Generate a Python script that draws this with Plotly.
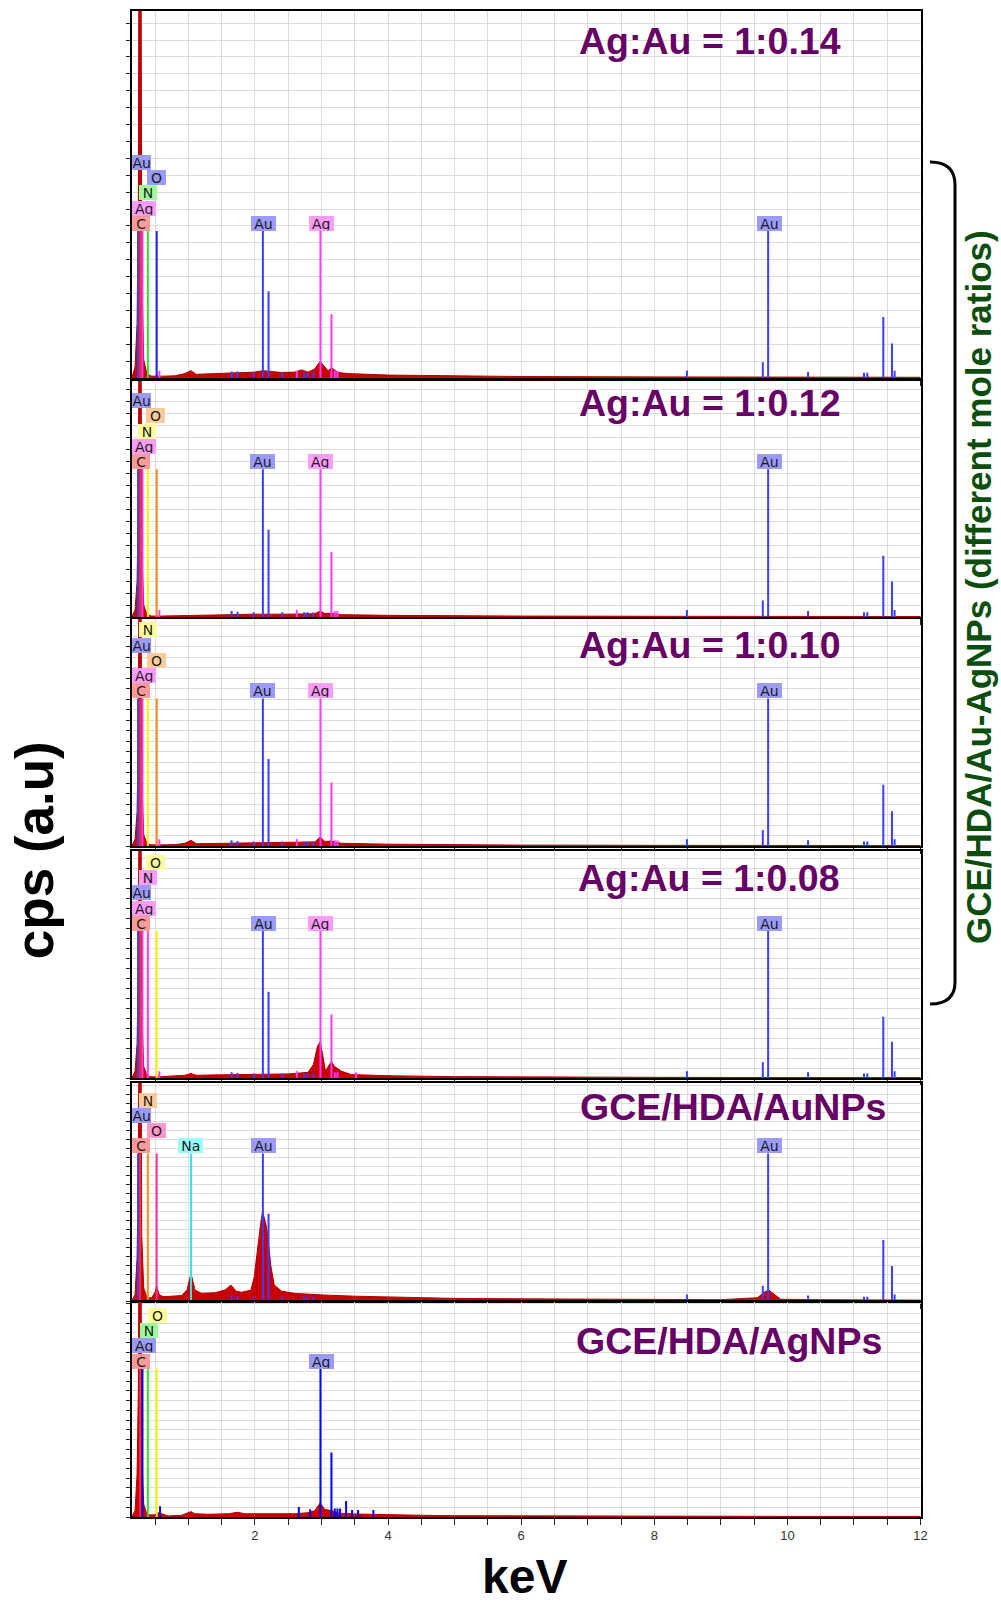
import plotly.graph_objects as go

W, H = 1001, 1602

# ---------------- DATA ----------------
TITLES = ["Ag:Au = 1:0.14", "Ag:Au = 1:0.12", "Ag:Au = 1:0.10", "Ag:Au = 1:0.08",
          "GCE/HDA/AuNPs", "GCE/HDA/AgNPs"]
X_TICK_VALUES = [2, 4, 6, 8, 10, 12]

# spectra (energy keV, relative counts)
E1 = [0.15, 0.2, 0.23, 0.25, 0.262, 0.285, 0.3, 0.33, 0.38, 0.45, 0.6, 0.8, 0.95, 1.04, 1.12, 1.5, 1.8, 2.0,
      2.12, 2.2, 2.4, 2.6, 2.7, 2.8, 2.9, 2.98, 3.05, 3.1, 3.15, 3.25, 3.4, 4.0, 5.0, 6.0, 8.0, 10.0, 12.0]
I1 = [0, 0.03, 0.15, 0.5, 1.6, 1.6, 0.3, 0.05, 0.01, 0.005, 0.005, 0.006, 0.012, 0.02, 0.01, 0.012, 0.014, 0.016,
      0.02, 0.018, 0.015, 0.016, 0.022, 0.016, 0.025, 0.045, 0.03, 0.02, 0.028, 0.015, 0.012, 0.008, 0.006, 0.004,
      0.003, 0.002, 0.002]
E2 = [0.15, 0.2, 0.23, 0.25, 0.262, 0.285, 0.3, 0.33, 0.38, 0.45, 0.6, 0.8, 1.0, 1.5, 2.0, 2.5, 2.9, 2.98,
      3.05, 3.15, 3.3, 4.0, 5.0, 6.0, 8.0, 10.0, 12.0]
I2 = [0, 0.03, 0.15, 0.5, 1.6, 1.6, 0.3, 0.05, 0.01, 0.004, 0.004, 0.005, 0.008, 0.01, 0.012, 0.012, 0.014,
      0.025, 0.015, 0.016, 0.01, 0.007, 0.005, 0.004, 0.003, 0.002, 0.002]
E3 = [0.15, 0.2, 0.23, 0.25, 0.262, 0.285, 0.3, 0.33, 0.38, 0.45, 0.6, 0.8, 0.95, 1.04, 1.12, 1.5, 2.0, 2.5,
      2.9, 2.98, 3.05, 3.15, 3.3, 4.0, 5.0, 6.0, 8.0, 10.0, 12.0]
I3 = [0, 0.03, 0.15, 0.5, 1.6, 1.6, 0.3, 0.05, 0.01, 0.005, 0.005, 0.006, 0.012, 0.025, 0.01, 0.011, 0.013,
      0.014, 0.018, 0.04, 0.02, 0.022, 0.012, 0.008, 0.005, 0.004, 0.003, 0.002, 0.002]
E4 = [0.15, 0.2, 0.23, 0.25, 0.262, 0.285, 0.3, 0.33, 0.38, 0.45, 0.6, 0.8, 0.95, 1.04, 1.12, 1.5, 2.0, 2.5,
      2.8, 2.88, 2.94, 2.98, 3.02, 3.06, 3.1, 3.15, 3.2, 3.3, 3.45, 4.0, 5.0, 6.0, 8.0, 10.0, 12.0]
I4 = [0, 0.03, 0.15, 0.5, 1.6, 1.6, 0.3, 0.05, 0.01, 0.005, 0.006, 0.008, 0.012, 0.02, 0.012, 0.014, 0.016,
      0.018, 0.025, 0.06, 0.14, 0.16, 0.1, 0.03, 0.05, 0.072, 0.05, 0.03, 0.015, 0.01, 0.006, 0.004, 0.003,
      0.002, 0.002]
E5 = [0.15, 0.2, 0.23, 0.25, 0.262, 0.285, 0.3, 0.33, 0.38, 0.45, 0.5, 0.525, 0.56, 0.62, 0.75, 0.9, 0.98,
      1.04, 1.1, 1.2, 1.4, 1.55, 1.64, 1.72, 1.8, 1.94, 1.99, 2.04, 2.08, 2.115, 2.16, 2.19, 2.24, 2.29, 2.4,
      2.6, 2.8, 3.0, 3.5, 4.0, 5.0, 6.0, 7.0, 8.0, 9.0, 9.55, 9.65, 9.72, 9.8, 9.9, 10.5, 11.0, 12.0]
I5 = [0, 0.03, 0.2, 0.6, 1.6, 1.6, 0.3, 0.06, 0.015, 0.015, 0.04, 0.07, 0.03, 0.02, 0.022, 0.025, 0.05,
      0.127, 0.05, 0.035, 0.038, 0.05, 0.073, 0.045, 0.04, 0.05, 0.11, 0.25, 0.34, 0.41, 0.36, 0.31, 0.16,
      0.074, 0.045, 0.035, 0.03, 0.028, 0.022, 0.018, 0.012, 0.01, 0.008, 0.007, 0.006, 0.015, 0.04, 0.05,
      0.03, 0.008, 0.006, 0.005, 0.004]
E6 = [0.15, 0.2, 0.23, 0.25, 0.262, 0.285, 0.3, 0.33, 0.38, 0.5, 0.55, 0.7, 0.9, 1.0, 1.04, 1.1, 1.3, 1.6,
      1.74, 1.85, 2.2, 2.6, 2.8, 2.9, 2.98, 3.05, 3.15, 3.25, 3.5, 4.0, 4.5, 5.0, 6.0, 8.0, 10.0, 12.0]
I6 = [0, 0.03, 0.2, 0.6, 1.6, 1.6, 0.3, 0.06, 0.01, 0.01, 0.02, 0.005, 0.008, 0.018, 0.025, 0.015, 0.013,
      0.015, 0.022, 0.015, 0.014, 0.015, 0.02, 0.03, 0.065, 0.035, 0.03, 0.018, 0.014, 0.01, 0.008, 0.006,
      0.005, 0.004, 0.003, 0.003]

# element marker lines: (element, energy keV, relative height)
L1 = [("Au", 0.245, 0.40), ("C", 0.277, 0.40), ("Ag", 0.311, 0.40), ("N", 0.392, 0.40), ("O", 0.525, 0.40),
      ("Ag", 0.565, 0.02), ("Au", 1.65, 0.018), ("Au", 1.74, 0.018), ("Au", 1.98, 0.015), ("Au", 2.12, 0.40),
      ("Au", 2.205, 0.236), ("Au", 2.41, 0.015), ("Ag", 2.63, 0.02), ("Au", 2.74, 0.015), ("Au", 2.79, 0.015),
      ("Au", 2.88, 0.015), ("Ag", 2.985, 0.40), ("Ag", 3.15, 0.174), ("Ag", 3.2, 0.02), ("Ag", 3.24, 0.02),
      ("Au", 8.49, 0.02), ("Au", 9.63, 0.043), ("Au", 9.71, 0.40), ("Au", 10.31, 0.016), ("Au", 11.15, 0.014),
      ("Au", 11.2, 0.014), ("Au", 11.44, 0.166), ("Au", 11.57, 0.094), ("Au", 11.61, 0.02)]
L2 = [("Au", 0.245, 0.626), ("C", 0.277, 0.626), ("Ag", 0.311, 0.626), ("N", 0.392, 0.626), ("O", 0.525, 0.626),
      ("Ag", 0.565, 0.03), ("Au", 1.65, 0.025), ("Au", 1.74, 0.022), ("Au", 1.98, 0.02), ("Au", 2.12, 0.626),
      ("Au", 2.205, 0.37), ("Au", 2.41, 0.02), ("Ag", 2.63, 0.03), ("Au", 2.74, 0.02), ("Au", 2.79, 0.02),
      ("Au", 2.88, 0.02), ("Ag", 2.985, 0.626), ("Ag", 3.15, 0.275), ("Ag", 3.2, 0.025), ("Ag", 3.24, 0.025),
      ("Au", 8.49, 0.03), ("Au", 9.63, 0.07), ("Au", 9.71, 0.626), ("Au", 10.31, 0.025), ("Au", 11.15, 0.02),
      ("Au", 11.2, 0.02), ("Au", 11.44, 0.26), ("Au", 11.57, 0.15), ("Au", 11.61, 0.03)]
L3 = [("Au", 0.245, 0.65), ("C", 0.277, 0.65), ("Ag", 0.311, 0.65), ("N", 0.392, 0.65), ("O", 0.525, 0.65),
      ("Ag", 0.565, 0.03), ("Au", 1.65, 0.025), ("Au", 1.74, 0.022), ("Au", 1.98, 0.02), ("Au", 2.12, 0.65),
      ("Au", 2.205, 0.383), ("Au", 2.41, 0.02), ("Ag", 2.63, 0.03), ("Au", 2.74, 0.02), ("Au", 2.79, 0.02),
      ("Au", 2.88, 0.02), ("Ag", 2.985, 0.65), ("Ag", 3.15, 0.28), ("Ag", 3.2, 0.025), ("Ag", 3.24, 0.025),
      ("Au", 8.49, 0.03), ("Au", 9.63, 0.07), ("Au", 9.71, 0.65), ("Au", 10.31, 0.025), ("Au", 11.15, 0.02),
      ("Au", 11.2, 0.02), ("Au", 11.44, 0.27), ("Au", 11.57, 0.153), ("Au", 11.61, 0.03)]
L4 = [("Au", 0.245, 0.648), ("C", 0.277, 0.648), ("Ag", 0.311, 0.648), ("N", 0.392, 0.648), ("O", 0.525, 0.648),
      ("Ag", 0.565, 0.03), ("Au", 1.65, 0.025), ("Au", 1.74, 0.022), ("Au", 1.98, 0.02), ("Au", 2.12, 0.648),
      ("Au", 2.205, 0.38), ("Au", 2.41, 0.02), ("Ag", 2.63, 0.03), ("Au", 2.74, 0.02), ("Au", 2.79, 0.02),
      ("Au", 2.88, 0.02), ("Ag", 2.985, 0.648), ("Ag", 3.15, 0.28), ("Ag", 3.2, 0.025), ("Ag", 3.24, 0.025),
      ("Ag", 3.52, 0.025), ("Au", 8.49, 0.03), ("Au", 9.63, 0.07), ("Au", 9.71, 0.648), ("Au", 10.31, 0.025),
      ("Au", 11.15, 0.02), ("Au", 11.2, 0.02), ("Au", 11.44, 0.27), ("Au", 11.57, 0.16), ("Au", 11.61, 0.03)]
L5 = [("Au", 0.245, 0.677), ("C", 0.277, 0.677), ("N", 0.392, 0.677), ("O", 0.525, 0.677), ("Na", 1.04, 0.677),
      ("Au", 1.65, 0.025), ("Au", 1.74, 0.022), ("Au", 1.98, 0.02), ("Au", 2.12, 0.677), ("Au", 2.205, 0.40),
      ("Au", 2.41, 0.02), ("Au", 2.74, 0.02), ("Au", 2.79, 0.02), ("Au", 2.88, 0.02), ("Au", 8.49, 0.03),
      ("Au", 9.63, 0.07), ("Au", 9.71, 0.677), ("Au", 10.31, 0.025), ("Au", 11.15, 0.02), ("Au", 11.2, 0.02),
      ("Au", 11.44, 0.28), ("Au", 11.57, 0.16), ("Au", 11.61, 0.03)]
L6 = [("C", 0.277, 0.69), ("Ag", 0.311, 0.69), ("N", 0.392, 0.69), ("O", 0.525, 0.69), ("Ag", 0.575, 0.05),
      ("Ag", 2.66, 0.047), ("Ag", 2.83, 0.036), ("Ag", 2.985, 0.69), ("Ag", 3.15, 0.30), ("Ag", 3.2, 0.04),
      ("Ag", 3.24, 0.04), ("Ag", 3.28, 0.04), ("Ag", 3.37, 0.074), ("Ag", 3.46, 0.033), ("Ag", 3.55, 0.033),
      ("Ag", 3.78, 0.033)]

# element labels: (text, left energy keV, stacking row)
T1 = [("C", 0.15, 0), ("Ag", 0.15, 1), ("N", 0.255, 2), ("O", 0.38, 3), ("Au", 0.15, 4),
      ("Au", 1.94, 0), ("Ag", 2.81, 0), ("Au", 9.55, 0)]
T2 = [("C", 0.15, 0), ("Ag", 0.15, 1), ("N", 0.24, 2), ("O", 0.365, 3), ("Au", 0.15, 4),
      ("Au", 1.93, 0), ("Ag", 2.80, 0), ("Au", 9.55, 0)]
T3 = [("C", 0.15, 0), ("Ag", 0.15, 1), ("O", 0.38, 2), ("Au", 0.15, 3), ("N", 0.255, 4),
      ("Au", 1.93, 0), ("Ag", 2.80, 0), ("Au", 9.55, 0)]
T4 = [("C", 0.15, 0), ("Ag", 0.15, 1), ("Au", 0.15, 2), ("N", 0.255, 3), ("O", 0.365, 4),
      ("Au", 1.94, 0), ("Ag", 2.80, 0), ("Au", 9.55, 0)]
T5 = [("C", 0.15, 0), ("Na", 0.85, 0), ("Au", 1.94, 0), ("O", 0.38, 1), ("Au", 0.15, 2), ("N", 0.255, 3),
      ("Au", 9.55, 0)]
T6 = [("C", 0.15, 0), ("Ag", 2.81, 0), ("Ag", 0.15, 1), ("N", 0.275, 2), ("O", 0.40, 3)]

SPECTRA = [(E1, I1), (E2, I2), (E3, I3), (E4, I4), (E5, I5), (E6, I6)]
LINES = [L1, L2, L3, L4, L5, L6]
LABELS = [T1, T2, T3, T4, T5, T6]

# ---------------- STYLE ----------------
PANELS_PX = [(10.7, 378), (381, 617), (619, 846), (851, 1078), (1083, 1301), (1302, 1517)]
X_LEFT, X_RIGHT = 130.7, 920.5
XR = [0.15, 12.0]
GRID_PX = [16.9, 12.0, 10.5, 10.0, 9.0, 9.7]
TITLE_POS = [(710, 41), (710, 403), (710, 645), (709, 878), (733, 1107), (729, 1341)]
ROW_PX = 15.3
X_SCALE = 1.0058   # compensates horizontal squeeze observed in the rendered page
X_SHIFT = 1.2

LBL = dict(Au="#9a9aff", Ag="#ff9cff", C="#ff9a9a", green="#9cff9c", yellow="#ffff9c", orange="#ffcc99",
           pink2="#ff99cc", cyan="#99ffff")
LINE = dict(Au="#3d3dff", Ag="#ff3cff", C="#ff3030", green="#33dd33", yellow="#f5f500", orange="#ff8a1a",
            pink2="#ff3399", cyan="#33e6e6", blue="#0000ff", Oblue="#2020ee")
PANEL_STYLE = [
    {"Au": ("Au", "Au"), "Ag": ("Ag", "Ag"), "C": ("C", "C"), "N": ("green", "green"), "O": ("Au", "Oblue")},
    {"Au": ("Au", "Au"), "Ag": ("Ag", "Ag"), "C": ("C", "C"), "N": ("yellow", "yellow"), "O": ("orange", "orange")},
    {"Au": ("Au", "Au"), "Ag": ("Ag", "Ag"), "C": ("C", "C"), "N": ("yellow", "yellow"), "O": ("orange", "orange")},
    {"Au": ("Au", "Au"), "Ag": ("Ag", "Ag"), "C": ("C", "C"), "N": ("Ag", "Ag"), "O": ("yellow", "yellow")},
    {"Au": ("Au", "Au"), "C": ("C", "C"), "N": ("orange", "orange"), "O": ("pink2", "pink2"), "Na": ("cyan", "cyan")},
    {"Ag": ("Au", "blue"), "C": ("C", "C"), "N": ("green", "green"), "O": ("yellow", "yellow")},
]
EDGE_W = {"Au": 17.3, "Ag": 22.3, "C": 16.3}
STD_W = {"Au": 23, "Ag": 22.5, "Na": 23.4, "C": 16.3, "N": 16, "O": 17}


def pxx(x):
    return min(1.0, (x + X_SHIFT) * X_SCALE / W)


def pyy(y):
    return 1 - y / H


fig = go.Figure()
annotations = []
layout = dict(width=W, height=H, margin=dict(l=0, r=0, t=0, b=0), autosize=False,
              paper_bgcolor="white", plot_bgcolor="white", showlegend=False)

for i, (top, bot) in enumerate(PANELS_PX):
    n = i + 1
    xa = "x" if n == 1 else f"x{n}"
    ya = "y" if n == 1 else f"y{n}"
    ph = bot - top
    E, I = SPECTRA[i]
    fig.add_trace(go.Scatter(x=E, y=I, mode="lines", fill="tozeroy", fillcolor="#c80000",
                             line=dict(color="#b00000", width=1), xaxis=xa, yaxis=ya, hoverinfo="skip"))
    style = PANEL_STYLE[i]
    groups = {}
    for el, e, h in LINES[i]:
        col = LINE[style[el][1]]
        gx, gy = groups.setdefault(col, ([], []))
        gx += [e, e, None]
        gy += [0, h, None]
    for col, (gx, gy) in groups.items():
        fig.add_trace(go.Scatter(x=gx, y=gy, mode="lines", line=dict(color=col, width=2),
                                 xaxis=xa, yaxis=ya, hoverinfo="skip"))
    line_top = max(h for _, _, h in LINES[i])
    for txt, e, row in LABELS[i]:
        el = txt
        w = EDGE_W[el] if (e <= 0.151 and el in EDGE_W) else STD_W[el]
        annotations.append(dict(
            text=txt, x=e, y=line_top + row * ROW_PX / ph, xref=xa, yref=ya, xanchor="left", yanchor="bottom",
            showarrow=False, bgcolor=LBL[style[el][0]], borderpad=1, borderwidth=0, width=w, height=13.3,
            font=dict(family="DejaVu Sans", size=14, color="#1a1a1a")))
    tx, tyy = TITLE_POS[i]
    annotations.append(dict(text="<b>" + TITLES[i] + "</b>", x=pxx(tx), y=pyy(tyy), xref="paper", yref="paper",
                            xanchor="center", yanchor="middle", showarrow=False,
                            font=dict(family="Liberation Sans", size=37.5, color="#660066")))
    tickvals = [k * 0.5 for k in range(1, 25)]
    ticktext = [(str(int(v)) if (n == 6 and v in X_TICK_VALUES) else "") for v in tickvals]
    layout["xaxis" if n == 1 else f"xaxis{n}"] = dict(
        domain=[pxx(X_LEFT), pxx(X_RIGHT)], anchor=ya, range=XR, tickmode="array", tickvals=tickvals,
        ticktext=ticktext, ticks="outside", ticklen=6, tickcolor="#222", showgrid=True, gridcolor="#dcdcdc",
        gridwidth=1, showline=True, linecolor="black", linewidth=1.5, mirror=True, zeroline=False,
        tickfont=dict(family="Liberation Sans", size=13, color="#333"))
    layout["yaxis" if n == 1 else f"yaxis{n}"] = dict(
        domain=[pyy(bot), pyy(top)], anchor=xa, range=[0, 1], tick0=0, dtick=GRID_PX[i] / ph,
        showticklabels=False, ticks="outside", ticklen=4, tickcolor="#222", showgrid=True,
        gridcolor="#dcdcdc", gridwidth=1, showline=True, linecolor="black", linewidth=1.5, mirror=True,
        zeroline=False)

annotations.append(dict(text="<b>cps (a.u)</b>", x=pxx(34), y=pyy(850), xref="paper", yref="paper",
                        textangle=-90, showarrow=False, xanchor="center", yanchor="middle",
                        font=dict(family="Liberation Sans", size=53, color="black")))
annotations.append(dict(text="<b>keV</b>", x=pxx(524), y=pyy(1576), xref="paper", yref="paper",
                        showarrow=False, xanchor="center", yanchor="middle",
                        font=dict(family="Liberation Sans", size=48, color="black")))
annotations.append(dict(text="<b>GCE/HDA/Au-AgNPs (different mole ratios)</b>", x=pxx(978), y=pyy(587),
                        xref="paper", yref="paper", textangle=-90, showarrow=False, xanchor="center",
                        yanchor="middle", font=dict(family="Liberation Sans", size=35, color="#0b4d0b")))

pts = [(930, 162), (955, 162), (955, 185), (955, 982), (955, 1004), (930, 1004)]
p = [(pxx(a), pyy(b)) for a, b in pts]
path = (f"M {p[0][0]},{p[0][1]} Q {p[1][0]},{p[1][1]} {p[2][0]},{p[2][1]} L {p[3][0]},{p[3][1]} "
        f"Q {p[4][0]},{p[4][1]} {p[5][0]},{p[5][1]}")
layout["shapes"] = [dict(type="path", path=path, xref="paper", yref="paper",
                         line=dict(color="black", width=3))]
layout["annotations"] = annotations
fig.update_layout(**layout)
fig.write_html("out.html", config={"displayModeBar": False, "responsive": False},
               post_script="document.body.style.margin='0';document.body.style.overflow='hidden';")
